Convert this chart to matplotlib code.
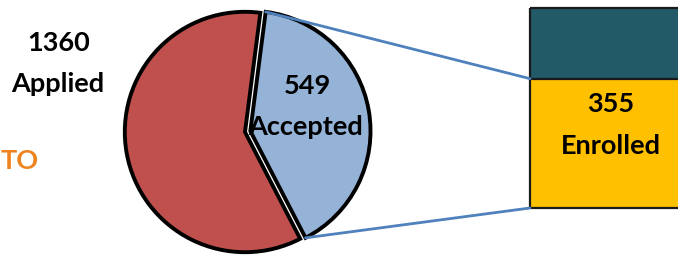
import numpy as np
import matplotlib
matplotlib.use("Agg")
import matplotlib.pyplot as plt
from matplotlib.patches import ConnectionPatch

plt.rcParams['font.family'] = ['Lato', 'DejaVu Sans']

# data
applied = 1360
accepted = 549
enrolled = 355
pie_vals = [accepted, applied - accepted]      # blue slice, red rest
pie_colors = ['#95B3D7', '#C0504D']
bar_vals = [enrolled, accepted - enrolled]     # yellow bottom, teal top
bar_colors = ['#FFC000', '#235A68']

W, H = 678, 256
fig = plt.figure(figsize=(W / 100, H / 100), dpi=100)

def px(x, y, w, h):
    # pixel box (top-left origin) -> figure fraction
    return [x / W, (H - y - h) / H, w / W, h / H]

# pie
ax_pie = fig.add_axes(px(245 - 125, 132 - 125, 250, 250))
frac = accepted / applied
start = 10 - frac * 360 / 2
wedges, _ = ax_pie.pie(pie_vals, colors=pie_colors, startangle=start,
                       explode=[0.045, 0], radius=1, frame=True,
                       wedgeprops=dict(edgecolor='black', linewidth=2.8))
ax_pie.set_xlim(-1.04, 1.04)
ax_pie.set_ylim(-1.04, 1.04)
ax_pie.set_aspect('equal')
ax_pie.axis('off')

# bar (right edge runs off the picture); 4 px padding on left/top/bottom
pad = 4
bar_w_px, bar_h_px = 260, 200
ax_bar = fig.add_axes(px(530 - pad, 8 - pad, bar_w_px + pad, bar_h_px + 2 * pad))
bottom = 0
for v, c in zip(bar_vals, bar_colors):
    ax_bar.bar(0, v, width=1, bottom=bottom, color=c, edgecolor='none')
    bottom += v
# outline: left side and the segment boundaries
edges = np.cumsum([0] + bar_vals)
ax_bar.vlines(-0.5, 0, accepted, color='#1a1a1a', linewidth=1.6)
ax_bar.hlines(edges, -0.5, 0.5, color='#1a1a1a', linewidth=1.6)
ax_bar.set_xlim(-0.5 - pad / bar_w_px, 0.5)
ypad = pad * accepted / bar_h_px
ax_bar.set_ylim(-ypad, accepted + ypad)
ax_bar.axis('off')

# connection lines
w = wedges[0]
cx, cy = w.center
t1, t2 = np.radians(w.theta1), np.radians(w.theta2)
for th, yb in [(t2, enrolled), (t1, 0)]:
    con = ConnectionPatch(xyA=(-0.5, yb), coordsA=ax_bar.transData,
                          xyB=(cx + np.cos(th), cy + np.sin(th)),
                          coordsB=ax_pie.transData,
                          color='#4F81BD', linewidth=2)
    con.set_zorder(3)
    fig.add_artist(con)

# labels
def label(x, y, s, color='black'):
    fig.text(x / W, 1 - y / H, s, ha='center', va='center', fontsize=19.5,
             fontweight='bold', color=color)

label(59, 43, '1360')
label(58, 84, 'Applied')
label(307, 86, '549')
label(306, 127, 'Accepted')
label(611, 104, '355')
label(611, 146, 'Enrolled')
fig.text(1 / W, 1 - 161 / H, 'TO', ha='left', va='center', fontsize=19.5,
         fontweight='bold', color='#EE8420')

fig.savefig('out.png', dpi=100)
